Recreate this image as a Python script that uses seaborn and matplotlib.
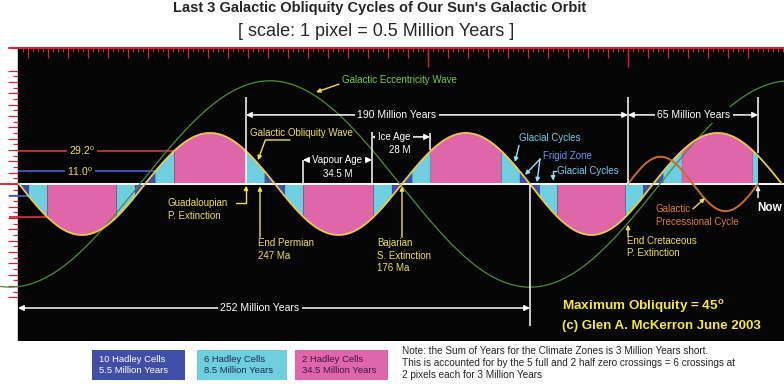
import numpy as np
import pandas as pd
import seaborn as sns
import matplotlib.pyplot as plt
from matplotlib.patches import Rectangle

# ---- data (x = million years ago, y = degrees) ----
obl_zero_ma = [369.5, 306.5, 241.5, 178, 114, 52.5, -12]   # obliquity zero crossings
obl_amp = 45
zone_limits = [11.0, 29.2]                                 # 10 / 6 / 2 Hadley cells

ecc_peak_ma = 244
ecc_trough_ma = 114
ecc_amp = 91

prec_zero_ma = [65, 32.5, 0]
prec_amp = 24

guad_ma, permian_ma, bajarian_ma, cretaceous_ma, now_ma = 256, 249, 178, 65, 0
span_252 = [370, 114]
vapour_age = [227.5, 193]
ice_age = [193, 164]

zone_colors = ['#3f4ea6', '#6dcfe0', '#e066aa']
zone_labels = ['10 Hadley Cells\n5.5 Million Years',
               '6 Hadley Cells\n8.5 Million Years',
               '2 Hadley Cells\n34.5 Million Years']
note = ('Note: the Sum of Years for the Climate Zones is 3 Million Years short.\n'
        'This is accounted for by the 5 full and 2 half zero crossings = 6 crossings at\n'
        '2 pixels each for 3 Million Years')

sns.set_theme(style='white')
plt.rcParams['font.family'] = ['Liberation Sans', 'DejaVu Sans']

YEL = '#ece050'
RED = '#d8203a'
W = 784.0
H = 384.0


def half_waves(x, zeros, amp, sign):
    y = np.full_like(x, np.nan)
    for i in range(len(zeros) - 1):
        a, b = zeros[i], zeros[i + 1]
        m = (x <= a) & (x >= b)
        y[m] = sign * (-1) ** i * amp * np.sin(np.pi * (a - x[m]) / (a - b))
    return y


x = np.linspace(379, -13, 6000)
obl = half_waves(x, obl_zero_ma, obl_amp, -1)
prec = half_waves(x, prec_zero_ma, prec_amp, 1)
ecc = ecc_amp * np.cos(np.pi * (x - ecc_peak_ma) / (ecc_peak_ma - ecc_trough_ma))
df = pd.DataFrame({'ma': x, 'obl': obl, 'prec': prec, 'ecc': ecc})

fig = plt.figure(figsize=(7.84, 3.84), dpi=100)
fig.patch.set_facecolor('white')
ax = fig.add_axes([0, 43 / H, 1, 294 / H])
ax.set_facecolor('white')
ax.set_xlim(379, -13)
ax.set_ylim(-138.5, 120.8)
for s in ax.spines.values():
    s.set_visible(False)
ax.set_xticks([])
ax.set_yticks([])
ax.axvspan(-13, 370, color='#050505', zorder=0)

# top red ruler
ax.axhline(120.3, xmin=9 / W, color=RED, lw=1.5, zorder=1)
minor = np.arange(-12.5, 370, 2.5)
ax.vlines(minor, 116.4, 120.8, color=RED, lw=0.7, zorder=1)
ax.vlines(np.arange(5, 370, 10), 111, 120.8, color=RED, lw=0.9, zorder=1)
ax.vlines([65, 165], 103, 120.8, color=RED, lw=1.0, zorder=1)

# left red ruler
deg = np.arange(-100, 101, 5)
ax.hlines(deg, np.where(deg % 10 == 0, 375, 372.5), 370, color=RED, lw=0.9,
          clip_on=False)

# climate zone fill under the obliquity wave
a = np.abs(obl)
near_zero = np.min(np.abs(x[:, None] - np.array(obl_zero_ma)[None, :]), axis=1) < 0.5
ok = (x >= now_ma) & (x <= 370) & ~near_zero
masks = [a < zone_limits[0], (a >= zone_limits[0]) & (a < zone_limits[1]), a >= zone_limits[1]]
for m, c in zip(masks, zone_colors):
    ax.fill_between(x, 0, obl, where=m & ok, color=c, lw=0, zorder=2)

# threshold lines on the left
up_red = x[(x < obl_zero_ma[1]) & (obl >= zone_limits[1])].max()
up_blue = x[(x < obl_zero_ma[1]) & (obl >= zone_limits[0])].max()
dn_red = x[(x < obl_zero_ma[0]) & (obl <= -zone_limits[1])].max()
dn_blue = x[(x < obl_zero_ma[0]) & (obl <= -zone_limits[0])].max()
ax.hlines(zone_limits[1], 370, up_red, color='#c83040', lw=1.3, zorder=2)
ax.hlines(zone_limits[0], 370, up_blue, color='#4a58c8', lw=1.3, zorder=2)
ax.hlines(-zone_limits[1], 374.5, dn_red, color='#c83040', lw=1.3, zorder=2, clip_on=False)
ax.hlines(-zone_limits[0], 374.5, dn_blue, color='#4a58c8', lw=1.3, zorder=2, clip_on=False)
ax.hlines(0, 379, 370, color=RED, lw=1.3, zorder=2)
ax.text(338, zone_limits[1], '29.2$^\\mathregular{o}$', color=YEL, fontsize=7.5,
        ha='center', va='center', zorder=4,
        bbox=dict(facecolor='#050505', edgecolor='none', pad=1.5))
ax.text(339, zone_limits[0], '11.0$^\\mathregular{o}$', color=YEL, fontsize=7.5,
        ha='center', va='center', zorder=4,
        bbox=dict(facecolor='#050505', edgecolor='none', pad=1.5))

# zero line
ax.hlines(0, 370, -13, color='white', lw=1.4, zorder=3)

# the three waves
sns.lineplot(data=df, x='ma', y='ecc', ax=ax, color='#4f8c36', lw=0.9, zorder=3)
sns.lineplot(data=df[df.ma <= 370], x='ma', y='obl', ax=ax, color='#f0c848', lw=1.3, zorder=4)
sns.lineplot(data=df, x='ma', y='prec', ax=ax, color='#cc6a2c', lw=1.4, zorder=4)
ax.set_xlabel('')
ax.set_ylabel('')
ax.set_xlim(379, -13)

# white marker lines and spans
wl = dict(color='white', lw=1.1, zorder=5)
ax.vlines([guad_ma, cretaceous_ma, now_ma], [0, 0, 27], 76.7, **wl)
ax.vlines(span_252[1], -125, 0, **wl)
ax.vlines(vapour_age, 0, [21.2, 45.9], **wl)
ax.vlines(ice_age[1], 30, 45, **wl)


def span(x0, x1, y, label, size=7.5, ty=None):
    ax.annotate('', xy=(x1, y), xytext=(x0, y), zorder=5,
                arrowprops=dict(arrowstyle='<|-|>', color='white', lw=1.1,
                                mutation_scale=8, shrinkA=0, shrinkB=0))
    ax.text((x0 + x1) / 2 if ty is None else ty, y, label, color='white', fontsize=size,
            ha='center', va='center', zorder=6,
            bbox=dict(facecolor='#050505', edgecolor='none', pad=2))


span(guad_ma, cretaceous_ma, 60.9, '190 Million Years', ty=180.5)
span(cretaceous_ma, now_ma, 60.9, '65 Million Years', ty=32)
span(span_252[0], span_252[1], -109.4, '252 Million Years', ty=249)
span(vapour_age[0], vapour_age[1], 21.2, 'Vapour Age', size=7)
ax.text(np.mean(vapour_age), 8.8, '34.5 M', color='white', fontsize=7,
        ha='center', va='center', zorder=6)
span(ice_age[0], ice_age[1], 41.5, 'Ice Age', size=7, ty=182)
ax.text(179, 30, '28 M', color='white', fontsize=7, ha='center', va='center', zorder=6)

# annotations
small = dict(fontsize=7, zorder=6, va='center')
ax.text(208, 91.7, 'Galactic Eccentricity Wave', color='#7cc850', ha='left', **small)
ax.annotate('', xy=(221, 81), xytext=(209.5, 88), zorder=6,
            arrowprops=dict(arrowstyle='-|>', color=YEL, lw=1, mutation_scale=6,
                            shrinkA=0, shrinkB=0))
ax.text(254, 45, 'Galactic Obliquity Wave', color=YEL, ha='left', **small)
ax.annotate('', xy=(250, 21), xytext=(234, 38.8), zorder=6,
            arrowprops=dict(arrowstyle='-|>', color=YEL, lw=1, mutation_scale=6,
                            shrinkA=0, shrinkB=0,
                            connectionstyle='angle,angleA=180,angleB=70,rad=0'))
ax.text(295, -12.5, 'Guadaloupian\nP. Extinction', color=YEL, ha='left',
        linespacing=1.3, fontsize=7, zorder=6, va='top')
ax.annotate('', xy=(guad_ma, -1.5), xytext=(261, -17), zorder=6,
            arrowprops=dict(arrowstyle='-|>', color=YEL, lw=1, mutation_scale=6,
                            shrinkA=0, shrinkB=0,
                            connectionstyle='angle,angleA=0,angleB=90,rad=0'))
ax.text(250, -48, 'End Permian\n247 Ma', color=YEL, ha='left', linespacing=1.3,
        fontsize=7, zorder=6, va='top')
ax.annotate('', xy=(permian_ma, -2), xytext=(permian_ma, -47), zorder=6,
            arrowprops=dict(arrowstyle='-|>', color=YEL, lw=1, mutation_scale=6,
                            shrinkA=0, shrinkB=0))
ax.text(190.5, -48, 'Bajarian\nS. Extinction\n176 Ma', color=YEL, ha='left',
        linespacing=1.3, fontsize=7, zorder=6, va='top')
ax.annotate('', xy=(bajarian_ma, -2), xytext=(bajarian_ma, -47), zorder=6,
            arrowprops=dict(arrowstyle='-|>', color=YEL, lw=1, mutation_scale=6,
                            shrinkA=0, shrinkB=0))
ax.text(65.5, -45.5, 'End Cretaceous\nP. Extinction', color=YEL, ha='left',
        linespacing=1.3, fontsize=7, zorder=6, va='top')
ax.annotate('', xy=(cretaceous_ma, -36), xytext=(cretaceous_ma, -46), zorder=6,
            arrowprops=dict(arrowstyle='-|>', color=YEL, lw=1, mutation_scale=6,
                            shrinkA=0, shrinkB=0))

ax.text(119.5, 40.6, 'Glacial Cycles', color='#6fcde8', ha='left', **small)
ax.annotate('', xy=(121.5, 19.4), xytext=(119.5, 34), zorder=6,
            arrowprops=dict(arrowstyle='-|>', color='#9fe0f0', lw=1, mutation_scale=6,
                            shrinkA=0, shrinkB=0))
ax.text(107.5, 24.7, 'Frigid Zone', color='#6f8ff0', ha='left', **small)
for tip in [(116.5, 8), (110.5, 1.5)]:
    ax.annotate('', xy=tip, xytext=(109, 22), zorder=6,
                arrowprops=dict(arrowstyle='-|>', color='#9fe0f0', lw=1,
                                mutation_scale=6, shrinkA=0, shrinkB=0))
ax.text(100.5, 11.5, 'Glacial Cycles', color='#6fcde8', ha='left', **small)
ax.annotate('', xy=(102.5, 3), xytext=(100.8, 11.5), zorder=6,
            arrowprops=dict(arrowstyle='-|>', color='#9fe0f0', lw=1, mutation_scale=6,
                            shrinkA=0, shrinkB=0,
                            connectionstyle='angle,angleA=0,angleB=90,rad=0'))
ax.text(51, -18, 'Galactic\nPrecessional Cycle', color='#e07a34', ha='left',
        linespacing=1.3, fontsize=7, zorder=6, va='top')
ax.annotate('', xy=(26.5, -12.4), xytext=(32.5, -22), zorder=6,
            arrowprops=dict(arrowstyle='-|>', color=YEL, lw=1, mutation_scale=6,
                            shrinkA=0, shrinkB=0))

ax.annotate('', xy=(now_ma, -1.5), xytext=(now_ma, -12), zorder=6,
            arrowprops=dict(arrowstyle='-|>', color='white', lw=1, mutation_scale=6,
                            shrinkA=0, shrinkB=0))
ax.text(0.6, -21, 'Now', color='white', fontsize=8.5, fontweight='bold',
        ha='left', va='center', zorder=6)

ax.text(98, -108.5, 'Maximum Obliquity = 45$^\\mathregular{o}$', color='#f5e642',
        fontsize=9.7, fontweight='bold', ha='left', va='center', zorder=6)
ax.text(98, -125, '(c) Glen A. McKerron June 2003', color='#f5e642',
        fontsize=9.5, fontweight='bold', ha='left', va='center', zorder=6)

# titles
fig.text(380 / W, 1 - 8 / H, "Last 3 Galactic Obliquity Cycles of Our Sun's Galactic Orbit",
         ha='center', va='center', fontsize=10.5, fontweight='bold')
fig.text(376 / W, 1 - 31 / H, '[ scale: 1 pixel = 0.5 Million Years ]',
         ha='center', va='center', fontsize=13)

# climate zone key
boxes = [(92, 185), (197, 287), (295, 388)]
text_cols = ['white', '#1c2c50', '#3a1a3a']
for (x0, x1), c, lab, tc in zip(boxes, zone_colors, zone_labels, text_cols):
    fig.patches.append(Rectangle((x0 / W, 1 - 380 / H), (x1 - x0) / W, 30 / H,
                                 transform=fig.transFigure, facecolor=c,
                                 edgecolor='none'))
    fig.text((x0 + 7) / W, 1 - 365 / H, lab, color=tc, fontsize=6.8,
             ha='left', va='center', linespacing=1.2)
fig.text(402 / W, 1 - 363 / H, note, fontsize=7.2, ha='left',
         va='center', linespacing=1.25)

fig.savefig('out.png', dpi=100, facecolor='white')
